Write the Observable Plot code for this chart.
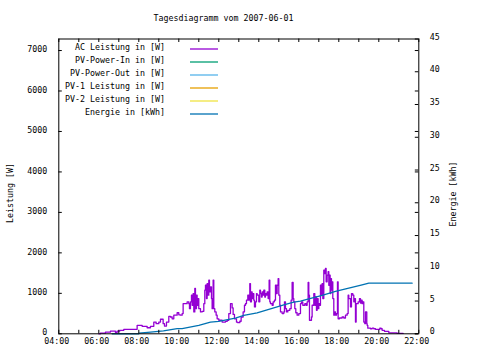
<!DOCTYPE html>
<html><head><meta charset="utf-8">
<script src="https://cdn.jsdelivr.net/npm/d3@7"></script>
<script src="https://cdn.jsdelivr.net/npm/@observablehq/plot@0.6"></script>
<style>body{margin:0;background:#fff}</style>
</head><body><div id="chart"></div>
<script>
const titleText = "Tagesdiagramm vom 2007-06-01";
const yLabel = "Leistung [W]";
const y2Label = "Energie [kWh]";
const legendLabels = ["AC Leistung in [W]", "PV-Power-In in [W]", "PV-Power-Out in [W]", "PV-1 Leistung in [W]", "PV-2 Leistung in [W]", "Energie in [kWh]"];
const legendColors = ["#9400d3", "#009e73", "#56b4e9", "#e69f00", "#f0e442", "#0072b2"];
const xLabelHours = [4, 6, 8, 10, 12, 14, 16, 18, 20, 22];
const yTicks = [0, 1000, 2000, 3000, 4000, 5000, 6000, 7000];
const y2Ticks = [0, 5, 10, 15, 20, 25, 30, 35, 40, 45];

// [minutes since midnight, AC power in W]
const acSeries = [[360,0],[365,17],[380,42],[395,67],[410,35],[415,67],[423,85],[435,110],[468,110],[475,210],[482,210],[490,185],[505,150],[515,185],[525,290],[532,250],[540,290],[545,360],[553,250],[557,190],[563,290],[570,430],[575,415],[580,370],[585,460],[595,520],[600,470],[605,460],[610,500],[613,745],[625,790],[630,745],[632,620],[635,790],[638,955],[640,705],[643,995],[645,540],[648,1120],[650,620],[653,955],[655,705],[658,870],[660,620],[665,540],[670,555],[675,745],[678,1080],[680,1200],[683,870],[685,1240],[688,955],[690,1325],[692,1035],[695,1160],[698,870],[700,620],[703,1325],[705,620],[708,540],[712,460],[715,370],[720,335],[730,290],[740,305],[745,335],[750,500],[755,745],[760,640],[763,480],[767,370],[773,290],[777,275],[783,310],[787,415],[793,540],[797,705],[800,745],[803,830],[807,955],[810,830],[813,1240],[815,790],[818,1035],[820,870],[823,995],[825,830],[827,665],[830,790],[833,995],[835,955],[840,790],[843,1080],[845,995],[848,910],[850,1035],[853,955],[855,1080],[858,910],[860,995],[863,955],[865,1035],[868,870],[871,1325],[873,790],[875,745],[880,705],[883,790],[887,830],[890,1200],[893,995],[895,1200],[898,1365],[900,955],[903,705],[905,540],[910,500],[915,540],[917,790],[920,620],[923,540],[927,580],[933,620],[937,830],[940,1270],[943,870],[945,790],[948,620],[951,520],[955,460],[960,500],[965,745],[968,790],[972,705],[978,745],[982,705],[985,790],[988,1270],[990,955],[992,335],[995,335],[998,415],[1000,705],[1005,995],[1008,705],[1010,910],[1013,580],[1015,870],[1018,620],[1020,745],[1022,705],[1025,1200],[1028,955],[1030,1240],[1032,870],[1035,1575],[1038,1490],[1040,1615],[1042,1285],[1045,1450],[1048,1535],[1050,1200],[1052,1450],[1054,995],[1056,1365],[1058,1080],[1060,1285],[1062,870],[1065,460],[1068,540],[1070,460],[1073,500],[1076,1285],[1078,370],[1082,390],[1090,415],[1095,390],[1100,460],[1105,500],[1108,955],[1110,870],[1115,665],[1118,995],[1122,955],[1125,790],[1128,870],[1130,290],[1132,745],[1138,790],[1142,870],[1145,760],[1148,830],[1150,745],[1152,790],[1155,290],[1158,250],[1160,540],[1164,250],[1165,210],[1167,140],[1175,125],[1180,140],[1185,125],[1190,110],[1200,110],[1203,140],[1207,125],[1210,85],[1217,60],[1230,25],[1255,10],[1273,10]];

// [minutes since midnight, cumulative energy in kWh]
const energySeries = [[400,0],[480,0],[481,0.1],[515,0.26],[554,0.46],[595,0.8],[610,0.8],[660,1.28],[695,1.78],[720,1.9],[750,2.2],[770,2.4],[795,2.8],[835,3.2],[875,3.8],[915,4.4],[945,4.83],[965,5.0],[990,5.34],[1030,5.85],[1070,6.46],[1110,6.97],[1150,7.47],[1170,7.73],[1300,7.73]];

const W = 480, H = 360, mL = 58.3, mR = 61.7, mT = 38.5, mB = 26.7;
const fW = W - mL - mR, fH = H - mT - mB;
const yMax = 7285, y2Max = 45, k = yMax / y2Max;
const base = Date.UTC(2007, 5, 1);
const t = m => new Date(base + m * 60000);
const hourDates = d3.range(4, 23).map(h => t(h * 60));
const labelDates = xLabelHours.map(h => t(h * 60));
const fmt = d3.utcFormat("%H:%M");

const ac = acSeries.map(([m, w]) => ({time: t(m), value: w}));
const en = energySeries.map(([m, e]) => ({time: t(m), value: e * k}));
const FONT = "'DejaVu Sans Mono', monospace";

const plot = Plot.plot({
  width: W, height: H, marginLeft: mL, marginRight: mR, marginTop: mT, marginBottom: mB,
  style: {fontFamily: FONT, fontSize: "8.3px", background: "#fff", color: "#000"},
  x: {type: "utc", domain: [t(240), t(1320)], axis: null},
  y: {domain: [0, yMax], axis: null},
  marks: [
    Plot.line(ac, {x: "time", y: "value", stroke: legendColors[0], strokeWidth: 1.3, curve: "step-after"}),
    Plot.line(en, {x: "time", y: "value", stroke: legendColors[5], strokeWidth: 1.3}),
    Plot.ruleY(yTicks, {insetRight: fW - 3.5, stroke: "#000"}),
    Plot.ruleY(yTicks, {insetLeft: fW - 3.5, stroke: "#000"}),
    Plot.ruleY(y2Ticks.map(v => v * k), {insetLeft: fW - 3.5, stroke: "#000"}),
    Plot.ruleX(hourDates, {insetTop: fH - 3.5, stroke: "#000"}),
    Plot.ruleX(hourDates, {insetBottom: fH - 3.5, stroke: "#000"}),
    Plot.frame({stroke: "#000"}),
    Plot.text(yTicks, {y: d => d, frameAnchor: "left", dx: -11.6, dy: -1, textAnchor: "end", text: d => String(d)}),
    Plot.text(y2Ticks, {y: d => d * k, frameAnchor: "right", dx: 11, dy: -2, textAnchor: "start", text: d => String(d)}),
    Plot.text(labelDates, {x: d => d, frameAnchor: "bottom", dy: 10, dx: -2, text: d => fmt(d)})
  ]
});

const svg = d3.select(plot);
const addText = (txt, x, y, anchor, rot) => {
  const el = svg.append("text")
    .attr("font-family", FONT).attr("font-size", "8.3px").attr("fill", "#000")
    .attr("text-anchor", anchor).text(txt);
  if (rot) el.attr("transform", `translate(${x},${y}) rotate(${rot})`);
  else el.attr("x", x).attr("y", y);
  return el;
};
addText(titleText, 223.5, 21, "middle");
addText(yLabel, 13, 193, "middle", -90);
addText(y2Label, 455.5, 194, "middle", -90);
legendLabels.forEach((lab, i) => {
  addText(lab, 165, 50 + i * 13, "end");
  svg.append("line").attr("x1", 190).attr("x2", 218)
    .attr("y1", 49 + i * 13).attr("y2", 49 + i * 13)
    .attr("stroke", legendColors[i]).attr("stroke-width", 1.3);
});

document.getElementById("chart").appendChild(plot);
</script>
</body></html>
